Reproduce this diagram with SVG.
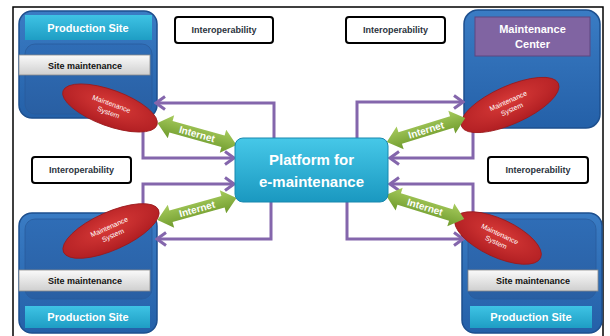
<svg xmlns="http://www.w3.org/2000/svg" width="610" height="336" viewBox="0 0 610 336">
<defs>
<linearGradient id="gBlue" x1="0" y1="0" x2="0" y2="1"><stop offset="0" stop-color="#3A7CC4"/><stop offset="1" stop-color="#2460A8"/></linearGradient>
<linearGradient id="gInner" x1="0" y1="0" x2="0" y2="1"><stop offset="0" stop-color="#2F6DB6"/><stop offset="1" stop-color="#295FA3"/></linearGradient>
<linearGradient id="gCyan" x1="0" y1="0" x2="0" y2="1"><stop offset="0" stop-color="#3EC3E4"/><stop offset="1" stop-color="#1E9DC4"/></linearGradient>
<linearGradient id="gGray" x1="0" y1="0" x2="0" y2="1"><stop offset="0" stop-color="#FAFAFA"/><stop offset="1" stop-color="#CFCFCF"/></linearGradient>
<linearGradient id="gPlat" x1="0" y1="0" x2="0" y2="1"><stop offset="0" stop-color="#46C8E8"/><stop offset="1" stop-color="#1A98C0"/></linearGradient>
<radialGradient id="gRed" cx="0.5" cy="0.4" r="0.6"><stop offset="0" stop-color="#D83A38"/><stop offset="1" stop-color="#B01E22"/></radialGradient>
<linearGradient id="gGreen" x1="0" y1="0" x2="0" y2="1"><stop offset="0" stop-color="#A8CC5E"/><stop offset="1" stop-color="#6E9A2C"/></linearGradient>
<marker id="chev" viewBox="-12 -8 14 16" markerWidth="14" markerHeight="16" refX="0" refY="0" orient="auto" markerUnits="userSpaceOnUse">
<path d="M -9 -6.5 L 0 0 L -9 6.5" fill="none" stroke="#8466AC" stroke-width="3" stroke-linejoin="miter"/>
</marker>
<path id="dbl" d="M -41 0 L -27 -12 L -27 -6 L 27 -6 L 27 -12 L 41 0 L 27 12 L 27 6 L -27 6 L -27 12 Z"/>
</defs>
<style>
.frame{fill:#fff;stroke:#000;stroke-width:1.5}
.site{fill:url(#gBlue);stroke:#1D4F8E;stroke-width:1.5}
.inner{fill:url(#gInner);stroke:#2A5C9C;stroke-width:0.8}
.band{fill:url(#gCyan)}
.bar{fill:url(#gGray);stroke:#8A8A8A;stroke-width:0.8}
.ell{fill:url(#gRed);stroke:#9A1A1C;stroke-width:0.8}
.inter{fill:#fff;stroke:#000;stroke-width:2}
.conn{fill:none;stroke:#8466AC;stroke-width:3;marker-end:url(#chev)}
.net{fill:url(#gGreen)}
text{font-family:"Liberation Sans","DejaVu Sans",sans-serif;text-anchor:middle}
.tw{fill:#fff;font-weight:bold;font-size:11px}
.tb{fill:#111;font-weight:bold;font-size:9px}
.ti{fill:#2B3340;font-weight:bold;font-size:9px}
.te{fill:#fff;font-size:7px}
.tn{fill:#fff;font-weight:bold;font-size:10px}
.tp{fill:#fff;font-weight:bold;font-size:15px}
</style>
<rect class="frame" x="13" y="7" width="590" height="335"/>

<g id="site-top-left">
<rect class="site" x="19" y="11" width="138" height="107" rx="13"/>
<rect class="inner" x="25" y="44" width="127" height="70" rx="10"/>
<rect class="band" x="25" y="15" width="127" height="25"/>
<text class="tw" x="88" y="32">Production Site</text>
<rect class="bar" x="19" y="55" width="131" height="20"/>
<text class="tb" x="85" y="68.5">Site maintenance</text>
</g>

<g id="center-top-right">
<rect class="site" x="464" y="10" width="136" height="118" rx="14"/>
<rect x="475" y="17" width="115" height="39" fill="#8064A2" stroke="#5E4680" stroke-width="1"/>
<text class="tw" x="532.5" y="33">Maintenance</text>
<text class="tw" x="532.5" y="48">Center</text>
</g>

<g id="site-bottom-left">
<rect class="site" x="19" y="213" width="138" height="120" rx="13"/>
<rect class="inner" x="25" y="219" width="127" height="80" rx="10"/>
<rect class="bar" x="19" y="270" width="131" height="21"/>
<text class="tb" x="85" y="284">Site maintenance</text>
<rect class="band" x="25" y="306" width="125" height="22"/>
<text class="tw" x="88" y="321">Production Site</text>
</g>

<g id="site-bottom-right">
<rect class="site" x="462" y="213" width="140" height="120" rx="13"/>
<rect class="inner" x="468" y="219" width="128" height="80" rx="10"/>
<rect class="bar" x="468" y="270" width="130" height="21"/>
<text class="tb" x="533" y="284">Site maintenance</text>
<rect class="band" x="470" y="306" width="122" height="22"/>
<text class="tw" x="531" y="321">Production Site</text>
</g>

<g id="interop-1"><rect class="inter" x="175" y="17" width="98" height="26" rx="3"/><text class="ti" x="224" y="33">Interoperability</text></g>
<g id="interop-2"><rect class="inter" x="346" y="17" width="99" height="26" rx="3"/><text class="ti" x="395.5" y="33">Interoperability</text></g>
<g id="interop-3"><rect class="inter" x="32" y="157" width="99" height="26" rx="3"/><text class="ti" x="81.5" y="173">Interoperability</text></g>
<g id="interop-4"><rect class="inter" x="488" y="157" width="100" height="26" rx="3"/><text class="ti" x="538" y="173">Interoperability</text></g>

<g id="connectors">
<path class="conn" d="M 274 138 V 103 H 156"/>
<path class="conn" d="M 143 124 V 158 H 234"/>
<path class="conn" d="M 357 138 V 102 H 463"/>
<path class="conn" d="M 473 125 V 158 H 390"/>
<path class="conn" d="M 143 216 V 184 H 234"/>
<path class="conn" d="M 271 202 V 239 H 157"/>
<path class="conn" d="M 473 214 V 184 H 390"/>
<path class="conn" d="M 347 202 V 239 H 463"/>
</g>

<g id="ms-top-left" transform="translate(110 108) rotate(20)">
<ellipse class="ell" cx="0" cy="0" rx="50" ry="18"/>
<text class="te" x="0" y="-2">Maintenance</text><text class="te" x="0" y="7">System</text>
</g>
<g id="ms-top-right" transform="translate(510 105) rotate(-24)">
<ellipse class="ell" cx="0" cy="0" rx="53" ry="19"/>
<text class="te" x="0" y="-2">Maintenance</text><text class="te" x="0" y="7">System</text>
</g>
<g id="ms-bottom-left" transform="translate(111 231) rotate(-24)">
<ellipse class="ell" cx="0" cy="0" rx="52" ry="19"/>
<text class="te" x="0" y="-2">Maintenance</text><text class="te" x="0" y="7">System</text>
</g>
<g id="ms-bottom-right" transform="translate(498 238) rotate(25)">
<ellipse class="ell" cx="0" cy="0" rx="47" ry="19"/>
<text class="te" x="0" y="-2">Maintenance</text><text class="te" x="0" y="7">System</text>
</g>

<g id="internet-tl" transform="translate(197 134) rotate(15.5)"><use href="#dbl" class="net"/><text class="tn" x="0" y="3.5">Internet</text></g>
<g id="internet-tr" transform="translate(426 130) rotate(-17)"><use href="#dbl" class="net"/><text class="tn" x="0" y="3.5">Internet</text></g>
<g id="internet-bl" transform="translate(197 209) rotate(-15.5)"><use href="#dbl" class="net"/><text class="tn" x="0" y="3.5">Internet</text></g>
<g id="internet-br" transform="translate(425 207) rotate(17)"><use href="#dbl" class="net"/><text class="tn" x="0" y="3.5">Internet</text></g>

<g id="platform">
<rect x="235" y="138" width="153" height="64" rx="8" fill="url(#gPlat)" stroke="#1888AE" stroke-width="1"/>
<text class="tp" x="311.5" y="165">Platform for</text>
<text class="tp" x="311.5" y="187">e-maintenance</text>
</g>
</svg>
